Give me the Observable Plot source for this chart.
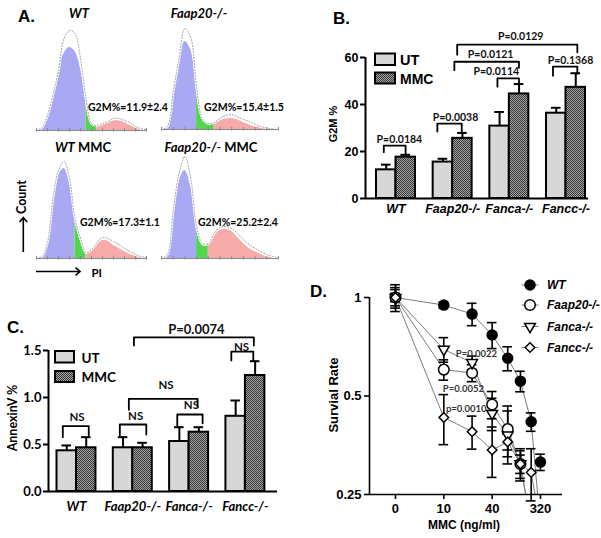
<!DOCTYPE html>
<html><head><meta charset="utf-8">
<script src="https://cdn.jsdelivr.net/npm/d3@7"></script>
<script src="https://cdn.jsdelivr.net/npm/@observablehq/plot@0.6"></script>
<style>
body{margin:0;background:#fff}
#root{position:relative;width:601px;height:538px;overflow:hidden;background:#fff}
</style></head><body>
<svg width="0" height="0" style="position:absolute"><defs>
<pattern id="checker" width="2" height="2" patternUnits="userSpaceOnUse">
<rect width="2" height="2" fill="#a4a4a4"/><rect width="1" height="1" fill="#363636"/><rect x="1" y="1" width="1" height="1" fill="#363636"/>
</pattern></defs></svg>
<div id="root"></div>
<script>
// ---------------- DATA ----------------
const groups = ["WT", "Faap20-/-", "Fanca-/-", "Fancc-/-"];
const treatments = ["UT", "MMC"];

// Panel A: cell-cycle histograms (channel grid, fitted fill heights, raw counts)
const histTitles = ["WT", "Faap20-/-", "WT", "Faap20-/-"];
const histTreat = ["", "", "MMC", "MMC"];
const histG2M = ["G2M%=11.9±2.4", "G2M%=15.4±1.5", "G2M%=17.3±1.1", "G2M%=25.2±2.4"];
const histChannels = [0,5,10,15,20,25,30,35,40,45,50,55,60,65,70,75,80,85,90,95,100];
const histTicks = [0,10,20,30,40,50,60,70,80,90,100];
const histFitWT = [0,3,15,35,58,77,83,79,62,27,6,4.5,6,8,9.5,9.5,8,5,2.5,1,0];
const histRawWT = [0,3,15,36,60,92,100,97,72,32,7,5,7,9,12,12,10,8,4,2,1];
const histFitFaap = [0,2,35,67,88,80,38,10,5,5.5,8.5,10.5,11,9.5,7,4.5,2.5,1.5,0.5,0,0];
const histRawFaap = [0,3,38,71,101,92,42,11,6,7,11,14,15,12.5,10,8,5,3,1.5,0.5,0];
const histFitWTMMC = [0,2,15,58,83,90,75,37,18,4,7,13,18,17,13,10,7,4,2,1,0];
const histRawWTMMC = [0,2,16,60,88,97,80,40,20,6,9,16,21,20,17,14,10,7,4,2,1];
const histFitFaapMMC = [0,3,45,77,88,72,28,13,13,23,28,29,27,21,15,10,6.7,4,1.5,0.5,0];
const histRawFaapMMC = [0,4,48,85,102,80,32,15,15,25,31,32,30,25,19,14,10,7,4,2,1];
const histGates = [[45,55],[30,45],[35,45],[30,40]];

// Panel B: G2M %
const g2mUT = [12.2, 15.5, 30.8, 36.3];
const g2mUTErr = [2.2, 1.4, 6.0, 2.3];
const g2mMMC = [17.6, 25.6, 44.5, 47.3];
const g2mMMCErr = [1.0, 2.3, 4.2, 6.0];
const g2mTicks = [0, 20, 40, 60];
const g2mBrackets = [
  {label:"P=0.0184", x1:-0.215, x2:0.17, y:22.5, yL:19.7, yR:18.8, lx:0.06, ly:25.1},
  {label:"P=0.0038", x1:0.73, x2:1.16, y:31.9, yL:28.5, yR:28.2, lx:1.05, ly:34.6},
  {label:"P=0.0114", x1:1.79, x2:2.17, y:51.1, yL:47.6, yR:48.5, lx:1.77, ly:53.8},
  {label:"P=0.0121", x1:1.03, x2:2.17, y:58.2, yL:54.6, yR:55.6, lx:1.67, ly:61.2},
  {label:"P=0.0129", x1:1.08, x2:3.2, y:65.5, yL:61.2, yR:62.2, lx:2.2, ly:68.9},
  {label:"P=0.1368", x1:2.77, x2:3.2, y:56.1, yL:52.2, yR:53.2, lx:3.08, ly:58.5}
];

// Panel C: AnnexinV %
const annexUT = [0.433, 0.465, 0.532, 0.80];
const annexUTErr = [0.057, 0.113, 0.152, 0.168];
const annexMMC = [0.465, 0.465, 0.631, 1.234];
const annexMMCErr = [0.113, 0.053, 0.053, 0.152];
const annexTicks = [0, 0.5, 1.0, 1.5];
const annexBrackets = [
  {label:"NS", x1:-0.243, x2:0.218, y:0.695, yL:0.578, yR:0.588, lx:0.01, ly:0.79},
  {label:"NS", x1:0.77, x2:1.24, y:0.713, yL:0.596, yR:0.606, lx:1.05, ly:0.80},
  {label:"NS", x1:1.79, x2:2.24, y:0.819, yL:0.70, yR:0.726, lx:2.04, ly:0.915},
  {label:"NS", x1:0.93, x2:2.15, y:0.986, yL:0.869, yR:0.897, lx:1.59, ly:1.128},
  {label:"NS", x1:2.75, x2:3.14, y:1.489, yL:1.394, yR:1.394, lx:2.93, ly:1.535},
  {label:"P=0.0074", x1:1.02, x2:3.15, y:1.64, yL:1.553, yR:1.553, lx:2.13, ly:1.72}
];

// Panel D: survival
const doseSteps = [1,2,3,4,5,6,7,8];
const doseTickSteps = [1,2,4,8];
const doseTickLabels = ["0","10","40","320"];
const survTicks = [0.25, 0.5, 1];
const survSeries = ["WT","Faap20-/-","Fanca-/-","Fancc-/-"];
const survWT = [1.0, 0.948, 0.890, 0.768, 0.652, 0.555, 0.417, 0.314];
const survWTErr = [0.03, 0.02, 0.07, 0.07, 0.055, 0.04, 0.027, 0.018];
const survFaap = [1.0, 0.602, 0.588, 0.471, 0.396, 0.31];
const survFaapErr = [0.057, 0.043, 0.035, 0.045, 0.07, 0.03];
const survFanca = [1.0, 0.694, 0.632, 0.442, 0.38, 0.31];
const survFancaErr = [0.072, 0.06, 0.03, 0.05, 0.07, 0.02];
const survFancc = [1.0, 0.43, 0.389, 0.342, 0.362, 0.31, 0.292];
const survFanccErr = [0.094, 0.075, 0.045, 0.06, 0.02, 0.035, 0.053];
const curveWT = [1.0, 0.948, 0.890, 0.768, 0.652, 0.555, 0.417, 0.2];
const curveFaap = [1.0, 0.602, 0.588, 0.471, 0.396, 0.31, 0.2];
const curveFanca = [1.0, 0.694, 0.632, 0.442, 0.38, 0.31, 0.2];
const curveFancc = [1.0, 0.43, 0.389, 0.342, 0.362, 0.31, 0.292, 0.2];
const survPLabels = ["P=0.0022", "P=0.0052", "p=0.0010"];
const survPAtStep = [3.19, 2.65, 2.76];
const survPAtValue = [0.673, 0.527, 0.455];

// ---------------- DRAWING ----------------
const root = document.getElementById("root");
const ARIAL = "Liberation Sans, Arial, sans-serif";
const CALIBRI = "Lato, Carlito, sans-serif";
function place(node, left, top) {
  node.style.position = "absolute";
  node.style.left = left + "px";
  node.style.top = top + "px";
  root.appendChild(node);
}

// Panel A histograms
const histFits = [histFitWT, histFitFaap, histFitWTMMC, histFitFaapMMC];
const histRaws = [histRawWT, histRawFaap, histRawWTMMC, histRawFaapMMC];
const histLayout = [[34,20,116],[159,19,123],[34,148,116],[159,148,123]];
histFits.forEach((fit, h) => {
  const pts = histChannels.map((c, i) => ({c, f: fit[i], r: histRaws[h][i]}));
  const [g1, g2] = histGates[h];
  const seg = (a, b) => pts.filter(d => d.c >= a && d.c <= b);
  const curve = "catmull-rom";
  const p = Plot.plot({
    width: histLayout[h][2], height: 114,
    marginLeft: 2, marginRight: 4, marginTop: 4, marginBottom: 4,
    x: {domain: [0, 100], axis: null},
    y: {domain: [0, 106], axis: null},
    style: {background: "transparent", overflow: "visible"},
    marks: [
      Plot.areaY(seg(0, g1), {x: "c", y: "f", fill: "#a9a9f3", curve}),
      Plot.areaY(seg(g1, g2), {x: "c", y: "f", fill: "#52d652", curve}),
      Plot.areaY(seg(g2, 100), {x: "c", y: "f", fill: "#f6aaaa", curve}),
      Plot.line(pts, {x: "c", y: "r", stroke: "white", strokeWidth: 2.4, curve}),
      Plot.line(pts, {x: "c", y: "r", stroke: "#8c8c8c", strokeWidth: 0.9, strokeDasharray: "1,2", curve}),
      Plot.ruleY([0], {stroke: "#8a8a8a", strokeWidth: 1}),
      Plot.ruleX(histTicks, {y1: -1.5, y2: 2, stroke: "#8a8a8a", strokeWidth: 1})
    ]
  });
  place(p, histLayout[h][0], histLayout[h][1]);
});

// bar helper
function barData(ut, utErr, mmc, mmcErr, w) {
  return groups.flatMap((g, i) => [
    {g, t: treatments[0], v: ut[i], e: utErr[i], x1: i - w, x2: i, c: i - w / 2},
    {g, t: treatments[1], v: mmc[i], e: mmcErr[i], x1: i, x2: i + w, c: i + w / 2}
  ]);
}
function bracketPoints(brs) {
  return brs.flatMap((b, id) => [
    {id, x: b.x1, y: b.yL}, {id, x: b.x1, y: b.y}, {id, x: b.x2, y: b.y}, {id, x: b.x2, y: b.yR}
  ]);
}
function barPlot({data, brackets, xDomain, yDomain, yTicks, yFormat, width, height, margins, font, tickFont, xLabelPad, labelSize}) {
  const cap = 0.085;
  return Plot.plot({
    width, height,
    marginLeft: margins[0], marginRight: margins[1], marginTop: margins[2], marginBottom: margins[3],
    x: {domain: xDomain},
    y: {domain: yDomain},
    style: {fontFamily: font, fontWeight: "bold", color: "black", background: "transparent", overflow: "visible"},
    marks: [
      Plot.rectY(data.filter(d => d.t === "UT"), {x1: "x1", x2: "x2", y: "v", fill: "#d7d7d7", stroke: "black", strokeWidth: 2}),
      Plot.rectY(data.filter(d => d.t === "MMC"), {x1: "x1", x2: "x2", y: "v", fill: "url(#checker)", stroke: "black", strokeWidth: 2}),
      Plot.ruleX(data, {x: "c", y1: "v", y2: d => d.v + d.e, stroke: "black", strokeWidth: 2}),
      Plot.ruleY(data, {y: d => d.v + d.e, x1: d => d.c - cap, x2: d => d.c + cap, stroke: "black", strokeWidth: 2}),
      Plot.line(bracketPoints(brackets), {x: "x", y: "y", z: "id", stroke: "black", strokeWidth: 1.8}),
      Plot.text(brackets, {x: "lx", y: "ly", text: "label", fontFamily: CALIBRI, fontWeight: "bold",
        fontSize: d => labelSize(d.label), lineAnchor: "middle", fill: "#111"}),
      Plot.ruleY([yDomain[0]], {stroke: "black", strokeWidth: 2}),
      Plot.ruleX([xDomain[0]], {stroke: "black", strokeWidth: 2}),
      Plot.axisY({ticks: yTicks, tickFormat: yFormat, tickSize: 5, tickPadding: 2, strokeWidth: 2, label: null, fontSize: tickFont, fontFamily: font, fontWeight: "bold"}),
      Plot.axisX({ticks: [0, 1, 2, 3], tickFormat: i => groups[i], tickSize: 0, tickPadding: xLabelPad, label: null,
        fontSize: tickFont, fontStyle: "italic", fontFamily: font, fontWeight: "bold"})
    ]
  });
}

// Panel B
const pB = barPlot({
  data: barData(g2mUT, g2mUTErr, g2mMMC, g2mMMCErr, 0.344),
  brackets: g2mBrackets, xDomain: [-0.538, 3.397], yDomain: [0, 60], yTicks: g2mTicks, yFormat: d => String(d),
  width: 301, height: 230, margins: [65, 13, 57, 32], font: ARIAL, tickFont: 12.5, xLabelPad: 6,
  labelSize: () => 10.5
});
place(pB, 300, 0);

// Panel C
const pC = barPlot({
  data: barData(annexUT, annexUTErr, annexMMC, annexMMCErr, 0.346),
  brackets: annexBrackets, xDomain: [-0.497, 3.57], yDomain: [0, 1.5], yTicks: annexTicks, yFormat: d3.format(".1f"),
  width: 300, height: 230, margins: [48, 23, 50, 39], font: CALIBRI, tickFont: 13, xLabelPad: 10,
  labelSize: s => s === "NS" ? 11.5 : 13
});
place(pC, 0, 300);

// Panel D
const survMeans = [survWT, survFaap, survFanca, survFancc];
const survErrs = [survWTErr, survFaapErr, survFancaErr, survFanccErr];
const survCurves = [curveWT, curveFaap, curveFanca, curveFancc];
const dPoints = survSeries.flatMap((s, si) => survMeans[si].map((v, i) => ({s, k: doseSteps[i], v, e: survErrs[si][i]})));
const dCurves = survSeries.flatMap((s, si) => survCurves[si].map((v, i) => ({s, k: doseSteps[i], v})));
const capF = Math.pow(2, 0.1);
const symStyle = [
  {symbol: "circle", r: 5, fill: "black", rotate: 0},
  {symbol: "circle", r: 5.3, fill: "white", rotate: 0},
  {symbol: "triangle", r: 4, fill: "white", rotate: 180},
  {symbol: "diamond2", r: 4.3, fill: "white", rotate: 0}
];
const xMinD = 0.689;
const pD = Plot.plot({
  width: 301, height: 268, marginLeft: 69, marginRight: 39, marginTop: 27, marginBottom: 44,
  x: {type: "log", base: 2, domain: [xMinD, 10.97]},
  y: {type: "log", base: 2, domain: [0.25, 1]},
  style: {fontFamily: ARIAL, fontWeight: "bold", color: "black", background: "transparent", overflow: "visible"},
  marks: [
    Plot.line(dCurves, {x: "k", y: "v", z: "s", stroke: "#7d7d7d", strokeWidth: 1, clip: true}),
    Plot.ruleX(dPoints, {x: "k", y1: d => d.v - d.e, y2: d => d.v + d.e, stroke: "black", strokeWidth: 1.6}),
    Plot.ruleY(dPoints, {y: d => d.v + d.e, x1: d => d.k / capF, x2: d => d.k * capF, stroke: "black", strokeWidth: 1.6}),
    Plot.ruleY(dPoints, {y: d => d.v - d.e, x1: d => d.k / capF, x2: d => d.k * capF, stroke: "black", strokeWidth: 1.6}),
    ...survSeries.map((s, si) => Plot.dot(dPoints.filter(d => d.s === s), {
      x: "k", y: "v", symbol: symStyle[si].symbol, r: symStyle[si].r, fill: symStyle[si].fill,
      stroke: "black", strokeWidth: 1.5, rotate: symStyle[si].rotate
    })),
    Plot.text(survPLabels, {x: (d, i) => survPAtStep[i], y: (d, i) => survPAtValue[i], text: d => d,
      fontFamily: CALIBRI, fontWeight: "bold", fontSize: 9.5, fill: "#333", lineAnchor: "middle"}),
    Plot.ruleY([0.25], {stroke: "black", strokeWidth: 1.6}),
    Plot.ruleX([xMinD], {stroke: "black", strokeWidth: 1.6}),
    Plot.axisY({ticks: survTicks, tickFormat: d => String(d), tickSize: 5, tickPadding: 3, strokeWidth: 1.6, label: null, fontSize: 13, fontWeight: "bold"}),
    Plot.axisX({ticks: doseTickSteps, tickFormat: d => doseTickLabels[doseTickSteps.indexOf(d)], tickSize: 5, tickPadding: 4, strokeWidth: 1.6, label: null, fontSize: 13, fontWeight: "bold"})
  ]
});
place(pD, 300, 270);

// ---------------- OVERLAY (labels, legends, arrows) ----------------
const ov = d3.select(root).append("svg").attr("width", 601).attr("height", 538)
  .style("position", "absolute").style("left", "0px").style("top", "0px");
function txt(x, y, s, {family = ARIAL, size = 12, italic = false, anchor = "start", rotate = 0, fill = "black"} = {}) {
  const t = ov.append("text").attr("x", x).attr("y", y).attr("dominant-baseline", "central")
    .attr("text-anchor", anchor).style("font-family", family).style("font-size", size + "px")
    .style("font-weight", "bold").style("font-style", italic ? "italic" : "normal").attr("fill", fill).text(s);
  if (rotate) t.attr("transform", `rotate(${rotate},${x},${y})`);
  return t;
}
// panel letters
txt(18, 16, "A.", {size: 17});
txt(333, 18.5, "B.", {size: 17});
txt(7, 327, "C.", {size: 17});
txt(310, 291, "D.", {size: 17});
// histogram titles
const titleCenters = [[79, 12.5], [199, 12.5], [83, 147], [211, 147]];
histTitles.forEach((t, i) => {
  const e = ov.append("text").attr("x", titleCenters[i][0]).attr("y", titleCenters[i][1])
    .attr("dominant-baseline", "central").attr("text-anchor", "middle")
    .style("font-family", CALIBRI).style("font-size", "13px").style("font-weight", "bold");
  e.append("tspan").style("font-style", "italic").text(t);
  if (histTreat[i]) e.append("tspan").text((i === 2 ? "  " : " ") + histTreat[i]);
});
const g2mPos = [[88, 107], [204, 107], [80, 222], [198, 222]];
histG2M.forEach((s, i) => txt(g2mPos[i][0], g2mPos[i][1], s, {family: CALIBRI, size: 10.5}));
// Count / PI arrows
txt(21.5, 197, "Count", {family: CALIBRI, size: 12.5, anchor: "middle", rotate: -90});
ov.append("path").attr("d", "M23.3,252V217.5M19.5,222L23.3,217.5L27.1,222").attr("fill", "none").attr("stroke", "black").attr("stroke-width", 1.6);
ov.append("path").attr("d", "M36,271.5H80M75.5,267.7L80,271.5L75.5,275.3").attr("fill", "none").attr("stroke", "black").attr("stroke-width", 1.6);
txt(91.5, 272, "PI", {family: CALIBRI, size: 11.5});
// axis titles
txt(333, 124, "G2M %", {size: 11, anchor: "middle", rotate: -90});
txt(12.7, 418, "AnnexinV %", {family: CALIBRI, size: 12.5, anchor: "middle", rotate: -90});
txt(333, 395, "Survial Rate", {size: 13, anchor: "middle", rotate: -90});
txt(464, 525, "MMC (ng/ml)", {size: 12, anchor: "middle"});
// B legend
ov.append("rect").attr("x", 375).attr("y", 53.5).attr("width", 20).attr("height", 11.5).attr("fill", "#d7d7d7").attr("stroke", "black").attr("stroke-width", 2);
ov.append("rect").attr("x", 375).attr("y", 72.5).attr("width", 20).attr("height", 11).attr("fill", "url(#checker)").attr("stroke", "black").attr("stroke-width", 2);
txt(400, 59.5, treatments[0], {size: 14.5});
txt(400, 78.5, treatments[1], {size: 14});
// C legend
ov.append("rect").attr("x", 55).attr("y", 351).attr("width", 19).attr("height", 11.5).attr("fill", "#d7d7d7").attr("stroke", "black").attr("stroke-width", 2);
ov.append("rect").attr("x", 55).attr("y", 371).attr("width", 19).attr("height", 11).attr("fill", "url(#checker)").attr("stroke", "black").attr("stroke-width", 2);
txt(81.5, 357.5, treatments[0], {family: CALIBRI, size: 13.5});
txt(81.5, 377, treatments[1], {family: CALIBRI, size: 13.5});
// D legend
const legRows = [285, 305, 326.5, 347.5];
const d3Sym = {circle: d3.symbolCircle, triangle: d3.symbolTriangle, diamond2: d3.symbolDiamond2};
survSeries.forEach((s, i) => {
  const y = legRows[i];
  ov.append("line").attr("x1", 521.5).attr("x2", 538.5).attr("y1", y).attr("y2", y).attr("stroke", "#7d7d7d").attr("stroke-width", 1);
  const st = symStyle[i];
  ov.append("path").attr("d", d3.symbol(d3Sym[st.symbol], st.r * st.r * Math.PI)())
    .attr("transform", `translate(530,${y}) rotate(${st.rotate})`)
    .attr("fill", st.fill).attr("stroke", "black").attr("stroke-width", 1.5);
  txt(547, y, s, {size: 12, italic: true});
});
</script>
</body></html>
